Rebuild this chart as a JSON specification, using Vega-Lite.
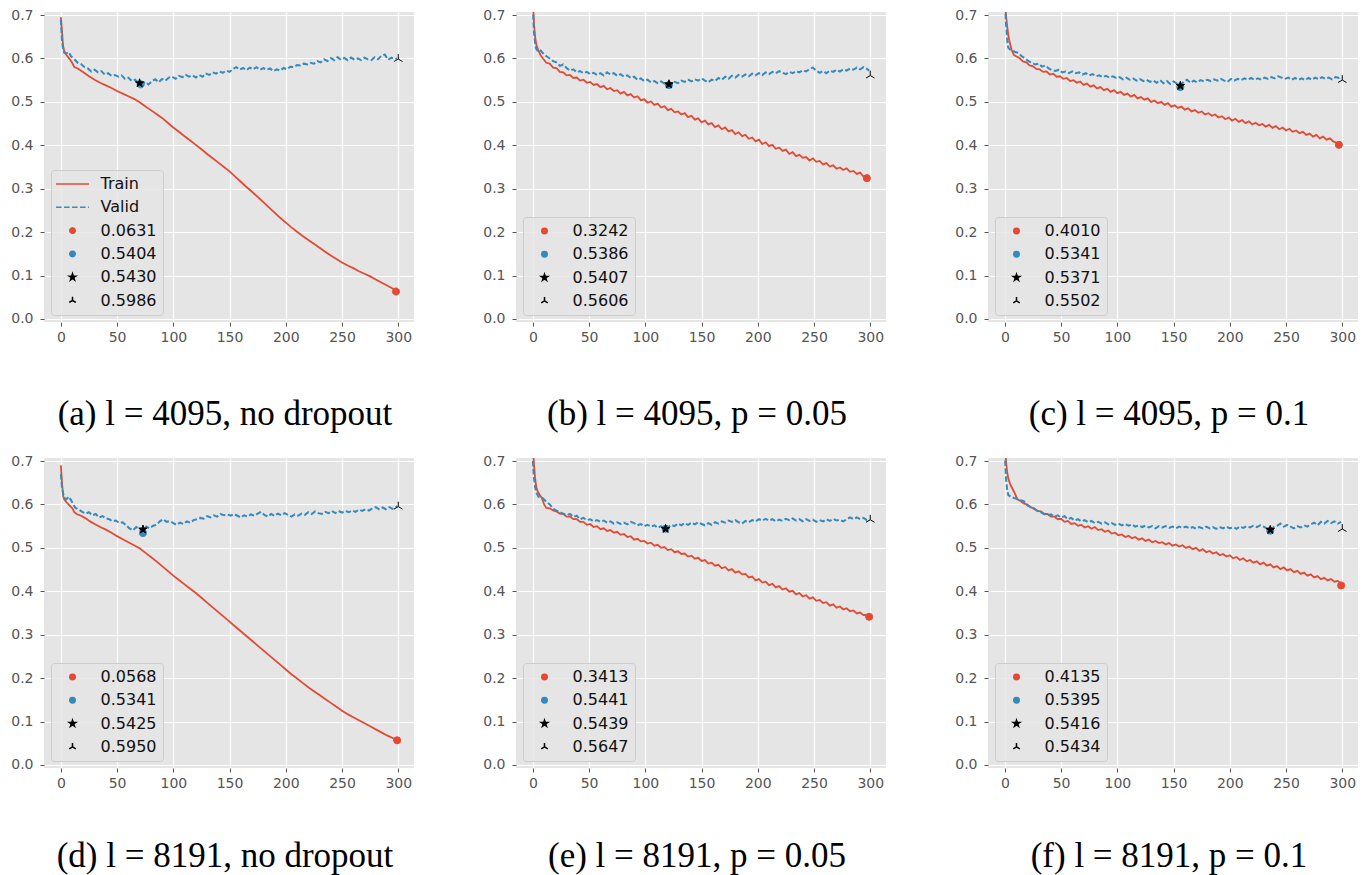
{
"$schema": "https://vega.github.io/schema/vega-lite/v6.json",
"background": "white",
"padding": {"left": 10, "top": 8, "right": 13, "bottom": 1},
"bounds": "flush",
"columns": 3,
"spacing": {"row": 136, "column": 102},
"config": {
  "view": {"fill": "#E5E5E5", "stroke": null},
  "axis": {"grid": true, "gridColor": "#FFFFFF", "gridWidth": 1.2, "domain": false, "tickColor": "#555555", "tickSize": 4, "tickWidth": 1, "labelColor": "#555555", "labelFont": "DejaVu Sans", "labelFontSize": 14, "title": null},
  "axisX": {"labelPadding": 4},
  "axisY": {"labelPadding": 7},
  "title": {"font": "Liberation Serif", "fontSize": 35, "fontWeight": "normal", "color": "#000000", "anchor": "middle"},
  "legend": {"orient": "bottom-left", "offset": 7, "padding": 6, "fillColor": "rgba(229,229,229,0.8)", "strokeColor": "#CCCCCC", "cornerRadius": 3, "labelFont": "DejaVu Sans", "labelFontSize": 16, "labelColor": "#111111", "labelOffset": 20, "symbolOffset": 7.5, "rowPadding": 7.3, "symbolSize": 30, "symbolStrokeWidth": 1.5}
},
"resolve": {"scale": {"fill": "independent", "stroke": "independent", "shape": "independent", "strokeDash": "independent", "x": "independent", "y": "independent"}, "legend": {"fill": "independent", "stroke": "independent", "shape": "independent", "strokeDash": "independent"}},
"datasets": {
"a_tr": [{"x":0,"y":0.695},{"x":1,"y":0.66},{"x":2,"y":0.628},{"x":3,"y":0.617},{"x":5,"y":0.608},{"x":8,"y":0.598},{"x":10,"y":0.59},{"x":12,"y":0.58},{"x":15,"y":0.577},{"x":20,"y":0.568},{"x":25,"y":0.559},{"x":30,"y":0.551},{"x":35,"y":0.544},{"x":40,"y":0.538},{"x":45,"y":0.532},{"x":50,"y":0.525},{"x":55,"y":0.519},{"x":60,"y":0.513},{"x":65,"y":0.507},{"x":70,"y":0.499},{"x":75,"y":0.49},{"x":80,"y":0.481},{"x":85,"y":0.472},{"x":90,"y":0.463},{"x":95,"y":0.452},{"x":100,"y":0.441},{"x":105,"y":0.431},{"x":110,"y":0.421},{"x":115,"y":0.411},{"x":120,"y":0.401},{"x":125,"y":0.391},{"x":130,"y":0.38},{"x":135,"y":0.37},{"x":140,"y":0.36},{"x":145,"y":0.35},{"x":150,"y":0.34},{"x":155,"y":0.328},{"x":160,"y":0.316},{"x":165,"y":0.304},{"x":170,"y":0.293},{"x":175,"y":0.281},{"x":180,"y":0.269},{"x":185,"y":0.257},{"x":190,"y":0.245},{"x":195,"y":0.233},{"x":200,"y":0.222},{"x":205,"y":0.211},{"x":210,"y":0.201},{"x":215,"y":0.191},{"x":220,"y":0.182},{"x":225,"y":0.173},{"x":230,"y":0.164},{"x":235,"y":0.155},{"x":240,"y":0.146},{"x":245,"y":0.138},{"x":250,"y":0.13},{"x":255,"y":0.123},{"x":260,"y":0.117},{"x":265,"y":0.11},{"x":270,"y":0.104},{"x":275,"y":0.098},{"x":280,"y":0.091},{"x":285,"y":0.084},{"x":290,"y":0.077},{"x":295,"y":0.07},{"x":299,"y":0.064}],
"a_va": [{"x":0,"y":0.69},{"x":1,"y":0.64},{"x":2,"y":0.62},{"x":3,"y":0.613},{"x":5,"y":0.612},{"x":7,"y":0.615},{"x":9,"y":0.605},{"x":12,"y":0.598},{"x":15,"y":0.59},{"x":18,"y":0.587},{"x":21,"y":0.58},{"x":24,"y":0.577},{"x":27,"y":0.57},{"x":30,"y":0.574},{"x":33,"y":0.568},{"x":36,"y":0.571},{"x":39,"y":0.563},{"x":42,"y":0.566},{"x":45,"y":0.56},{"x":48,"y":0.562},{"x":51,"y":0.558},{"x":54,"y":0.561},{"x":57,"y":0.553},{"x":60,"y":0.556},{"x":63,"y":0.548},{"x":66,"y":0.551},{"x":69,"y":0.543},{"x":72,"y":0.541},{"x":75,"y":0.546},{"x":78,"y":0.54},{"x":81,"y":0.548},{"x":84,"y":0.552},{"x":87,"y":0.545},{"x":90,"y":0.553},{"x":93,"y":0.549},{"x":96,"y":0.556},{"x":99,"y":0.558},{"x":102,"y":0.553},{"x":105,"y":0.56},{"x":108,"y":0.557},{"x":111,"y":0.562},{"x":114,"y":0.558},{"x":117,"y":0.561},{"x":120,"y":0.556},{"x":123,"y":0.562},{"x":126,"y":0.558},{"x":129,"y":0.565},{"x":132,"y":0.562},{"x":135,"y":0.568},{"x":138,"y":0.565},{"x":141,"y":0.57},{"x":144,"y":0.567},{"x":147,"y":0.572},{"x":150,"y":0.569},{"x":153,"y":0.576},{"x":156,"y":0.58},{"x":159,"y":0.574},{"x":162,"y":0.578},{"x":165,"y":0.573},{"x":168,"y":0.579},{"x":171,"y":0.575},{"x":174,"y":0.58},{"x":177,"y":0.574},{"x":180,"y":0.578},{"x":183,"y":0.574},{"x":186,"y":0.577},{"x":189,"y":0.571},{"x":192,"y":0.575},{"x":195,"y":0.572},{"x":198,"y":0.578},{"x":201,"y":0.575},{"x":204,"y":0.581},{"x":207,"y":0.58},{"x":210,"y":0.585},{"x":213,"y":0.584},{"x":216,"y":0.588},{"x":219,"y":0.586},{"x":222,"y":0.59},{"x":225,"y":0.588},{"x":228,"y":0.594},{"x":231,"y":0.591},{"x":234,"y":0.598},{"x":237,"y":0.594},{"x":240,"y":0.601},{"x":243,"y":0.596},{"x":246,"y":0.603},{"x":249,"y":0.597},{"x":252,"y":0.601},{"x":255,"y":0.596},{"x":258,"y":0.602},{"x":261,"y":0.597},{"x":264,"y":0.6},{"x":267,"y":0.596},{"x":270,"y":0.602},{"x":273,"y":0.598},{"x":276,"y":0.596},{"x":279,"y":0.603},{"x":282,"y":0.598},{"x":285,"y":0.606},{"x":288,"y":0.609},{"x":291,"y":0.597},{"x":294,"y":0.602},{"x":297,"y":0.598},{"x":299,"y":0.6}],
"a_mk": [{"x":298,"y":0.0631,"lab":"0.0631"},{"x":71,"y":0.5404,"lab":"0.5404"},{"x":70,"y":0.543,"lab":"0.5430"},{"x":300,"y":0.5986,"lab":"0.5986"}],
"b_tr": [{"x":0,"y":0.74},{"x":1,"y":0.68},{"x":2,"y":0.65},{"x":3,"y":0.632},{"x":5,"y":0.618},{"x":7,"y":0.607},{"x":9,"y":0.6},{"x":12,"y":0.59},{"x":15,"y":0.588},{"x":18,"y":0.579},{"x":21,"y":0.578},{"x":24,"y":0.569},{"x":27,"y":0.568},{"x":30,"y":0.561},{"x":33,"y":0.562},{"x":36,"y":0.555},{"x":39,"y":0.556},{"x":42,"y":0.549},{"x":45,"y":0.551},{"x":48,"y":0.544},{"x":51,"y":0.546},{"x":54,"y":0.539},{"x":57,"y":0.541},{"x":60,"y":0.534},{"x":63,"y":0.537},{"x":66,"y":0.529},{"x":69,"y":0.532},{"x":72,"y":0.525},{"x":75,"y":0.527},{"x":78,"y":0.519},{"x":81,"y":0.523},{"x":84,"y":0.515},{"x":87,"y":0.518},{"x":90,"y":0.51},{"x":93,"y":0.513},{"x":96,"y":0.504},{"x":99,"y":0.506},{"x":102,"y":0.498},{"x":105,"y":0.501},{"x":108,"y":0.493},{"x":111,"y":0.496},{"x":114,"y":0.487},{"x":117,"y":0.49},{"x":120,"y":0.481},{"x":123,"y":0.484},{"x":126,"y":0.476},{"x":129,"y":0.478},{"x":132,"y":0.471},{"x":135,"y":0.474},{"x":138,"y":0.465},{"x":141,"y":0.468},{"x":144,"y":0.459},{"x":147,"y":0.462},{"x":150,"y":0.453},{"x":153,"y":0.457},{"x":156,"y":0.448},{"x":159,"y":0.451},{"x":162,"y":0.442},{"x":165,"y":0.446},{"x":168,"y":0.437},{"x":171,"y":0.441},{"x":174,"y":0.432},{"x":177,"y":0.435},{"x":180,"y":0.426},{"x":183,"y":0.43},{"x":186,"y":0.421},{"x":189,"y":0.424},{"x":192,"y":0.415},{"x":195,"y":0.418},{"x":198,"y":0.409},{"x":201,"y":0.413},{"x":204,"y":0.403},{"x":207,"y":0.407},{"x":210,"y":0.398},{"x":213,"y":0.401},{"x":216,"y":0.392},{"x":219,"y":0.395},{"x":222,"y":0.387},{"x":225,"y":0.39},{"x":228,"y":0.38},{"x":231,"y":0.384},{"x":234,"y":0.375},{"x":237,"y":0.378},{"x":240,"y":0.371},{"x":243,"y":0.373},{"x":246,"y":0.365},{"x":249,"y":0.37},{"x":252,"y":0.362},{"x":255,"y":0.364},{"x":258,"y":0.356},{"x":261,"y":0.359},{"x":264,"y":0.351},{"x":267,"y":0.354},{"x":270,"y":0.346},{"x":273,"y":0.349},{"x":276,"y":0.343},{"x":279,"y":0.347},{"x":282,"y":0.339},{"x":285,"y":0.341},{"x":288,"y":0.334},{"x":291,"y":0.337},{"x":294,"y":0.328},{"x":297,"y":0.331},{"x":299,"y":0.329}],
"b_va": [{"x":0,"y":0.72},{"x":1,"y":0.66},{"x":2,"y":0.635},{"x":3,"y":0.622},{"x":5,"y":0.615},{"x":7,"y":0.618},{"x":9,"y":0.612},{"x":12,"y":0.605},{"x":15,"y":0.6},{"x":18,"y":0.594},{"x":21,"y":0.591},{"x":24,"y":0.583},{"x":27,"y":0.586},{"x":30,"y":0.578},{"x":33,"y":0.572},{"x":36,"y":0.575},{"x":39,"y":0.568},{"x":42,"y":0.571},{"x":45,"y":0.566},{"x":48,"y":0.569},{"x":51,"y":0.564},{"x":54,"y":0.567},{"x":57,"y":0.562},{"x":60,"y":0.566},{"x":63,"y":0.561},{"x":66,"y":0.568},{"x":69,"y":0.563},{"x":72,"y":0.566},{"x":75,"y":0.56},{"x":78,"y":0.564},{"x":81,"y":0.558},{"x":84,"y":0.561},{"x":87,"y":0.555},{"x":90,"y":0.558},{"x":93,"y":0.551},{"x":96,"y":0.554},{"x":99,"y":0.548},{"x":102,"y":0.551},{"x":105,"y":0.545},{"x":108,"y":0.548},{"x":111,"y":0.543},{"x":114,"y":0.547},{"x":117,"y":0.542},{"x":120,"y":0.545},{"x":123,"y":0.541},{"x":126,"y":0.546},{"x":129,"y":0.543},{"x":132,"y":0.549},{"x":135,"y":0.546},{"x":138,"y":0.551},{"x":141,"y":0.547},{"x":144,"y":0.552},{"x":147,"y":0.549},{"x":150,"y":0.554},{"x":153,"y":0.549},{"x":156,"y":0.545},{"x":159,"y":0.551},{"x":162,"y":0.548},{"x":165,"y":0.555},{"x":168,"y":0.551},{"x":171,"y":0.558},{"x":174,"y":0.553},{"x":177,"y":0.56},{"x":180,"y":0.556},{"x":183,"y":0.562},{"x":186,"y":0.558},{"x":189,"y":0.563},{"x":192,"y":0.559},{"x":195,"y":0.565},{"x":198,"y":0.561},{"x":201,"y":0.566},{"x":204,"y":0.562},{"x":207,"y":0.568},{"x":210,"y":0.564},{"x":213,"y":0.569},{"x":216,"y":0.566},{"x":219,"y":0.571},{"x":222,"y":0.567},{"x":225,"y":0.564},{"x":228,"y":0.569},{"x":231,"y":0.566},{"x":234,"y":0.571},{"x":237,"y":0.568},{"x":240,"y":0.573},{"x":243,"y":0.57},{"x":246,"y":0.576},{"x":249,"y":0.579},{"x":252,"y":0.572},{"x":255,"y":0.567},{"x":258,"y":0.571},{"x":261,"y":0.566},{"x":264,"y":0.572},{"x":267,"y":0.569},{"x":270,"y":0.574},{"x":273,"y":0.57},{"x":276,"y":0.575},{"x":279,"y":0.572},{"x":282,"y":0.577},{"x":285,"y":0.574},{"x":288,"y":0.579},{"x":291,"y":0.575},{"x":294,"y":0.58},{"x":297,"y":0.576},{"x":299,"y":0.572}],
"b_mk": [{"x":297,"y":0.3242,"lab":"0.3242"},{"x":121,"y":0.5386,"lab":"0.5386"},{"x":121,"y":0.5407,"lab":"0.5407"},{"x":300,"y":0.5606,"lab":"0.5606"}],
"c_tr": [{"x":0,"y":0.74},{"x":1,"y":0.7},{"x":2,"y":0.675},{"x":3,"y":0.655},{"x":4,"y":0.64},{"x":6,"y":0.62},{"x":8,"y":0.608},{"x":10,"y":0.605},{"x":13,"y":0.601},{"x":16,"y":0.593},{"x":19,"y":0.591},{"x":22,"y":0.584},{"x":25,"y":0.582},{"x":28,"y":0.576},{"x":31,"y":0.575},{"x":34,"y":0.569},{"x":37,"y":0.57},{"x":40,"y":0.563},{"x":43,"y":0.565},{"x":46,"y":0.558},{"x":49,"y":0.559},{"x":52,"y":0.553},{"x":55,"y":0.555},{"x":58,"y":0.548},{"x":61,"y":0.55},{"x":64,"y":0.544},{"x":67,"y":0.547},{"x":70,"y":0.539},{"x":73,"y":0.542},{"x":76,"y":0.535},{"x":79,"y":0.538},{"x":82,"y":0.531},{"x":85,"y":0.534},{"x":88,"y":0.527},{"x":91,"y":0.53},{"x":94,"y":0.523},{"x":97,"y":0.527},{"x":100,"y":0.52},{"x":103,"y":0.523},{"x":106,"y":0.516},{"x":109,"y":0.519},{"x":112,"y":0.512},{"x":115,"y":0.516},{"x":118,"y":0.508},{"x":121,"y":0.511},{"x":124,"y":0.505},{"x":127,"y":0.508},{"x":130,"y":0.5},{"x":133,"y":0.503},{"x":136,"y":0.497},{"x":139,"y":0.5},{"x":142,"y":0.493},{"x":145,"y":0.497},{"x":148,"y":0.489},{"x":151,"y":0.492},{"x":154,"y":0.486},{"x":157,"y":0.489},{"x":160,"y":0.482},{"x":163,"y":0.485},{"x":166,"y":0.478},{"x":169,"y":0.481},{"x":172,"y":0.475},{"x":175,"y":0.478},{"x":178,"y":0.471},{"x":181,"y":0.474},{"x":184,"y":0.468},{"x":187,"y":0.471},{"x":190,"y":0.464},{"x":193,"y":0.467},{"x":196,"y":0.46},{"x":199,"y":0.464},{"x":202,"y":0.457},{"x":205,"y":0.461},{"x":208,"y":0.454},{"x":211,"y":0.458},{"x":214,"y":0.451},{"x":217,"y":0.455},{"x":220,"y":0.448},{"x":223,"y":0.452},{"x":226,"y":0.446},{"x":229,"y":0.449},{"x":232,"y":0.443},{"x":235,"y":0.447},{"x":238,"y":0.44},{"x":241,"y":0.444},{"x":244,"y":0.437},{"x":247,"y":0.441},{"x":250,"y":0.434},{"x":253,"y":0.438},{"x":256,"y":0.431},{"x":259,"y":0.434},{"x":262,"y":0.428},{"x":265,"y":0.431},{"x":268,"y":0.424},{"x":271,"y":0.427},{"x":274,"y":0.42},{"x":277,"y":0.424},{"x":280,"y":0.416},{"x":283,"y":0.42},{"x":286,"y":0.413},{"x":289,"y":0.416},{"x":292,"y":0.409},{"x":295,"y":0.406},{"x":297,"y":0.402},{"x":299,"y":0.408}],
"c_va": [{"x":0,"y":0.74},{"x":1,"y":0.68},{"x":2,"y":0.645},{"x":3,"y":0.625},{"x":5,"y":0.62},{"x":7,"y":0.618},{"x":9,"y":0.615},{"x":12,"y":0.613},{"x":15,"y":0.605},{"x":18,"y":0.6},{"x":21,"y":0.594},{"x":24,"y":0.59},{"x":27,"y":0.586},{"x":30,"y":0.588},{"x":33,"y":0.581},{"x":36,"y":0.584},{"x":39,"y":0.577},{"x":42,"y":0.573},{"x":45,"y":0.571},{"x":48,"y":0.574},{"x":51,"y":0.568},{"x":54,"y":0.57},{"x":57,"y":0.566},{"x":60,"y":0.57},{"x":63,"y":0.566},{"x":66,"y":0.568},{"x":69,"y":0.563},{"x":72,"y":0.566},{"x":75,"y":0.561},{"x":78,"y":0.564},{"x":81,"y":0.559},{"x":84,"y":0.561},{"x":87,"y":0.557},{"x":90,"y":0.56},{"x":93,"y":0.556},{"x":96,"y":0.559},{"x":99,"y":0.555},{"x":102,"y":0.557},{"x":105,"y":0.552},{"x":108,"y":0.556},{"x":111,"y":0.551},{"x":114,"y":0.554},{"x":117,"y":0.549},{"x":120,"y":0.553},{"x":123,"y":0.548},{"x":126,"y":0.551},{"x":129,"y":0.546},{"x":132,"y":0.549},{"x":135,"y":0.544},{"x":138,"y":0.55},{"x":141,"y":0.543},{"x":144,"y":0.548},{"x":147,"y":0.541},{"x":150,"y":0.547},{"x":153,"y":0.542},{"x":156,"y":0.538},{"x":159,"y":0.546},{"x":162,"y":0.551},{"x":165,"y":0.544},{"x":168,"y":0.549},{"x":171,"y":0.545},{"x":174,"y":0.55},{"x":177,"y":0.547},{"x":180,"y":0.551},{"x":183,"y":0.548},{"x":186,"y":0.552},{"x":189,"y":0.549},{"x":192,"y":0.553},{"x":195,"y":0.549},{"x":198,"y":0.546},{"x":201,"y":0.553},{"x":204,"y":0.549},{"x":207,"y":0.553},{"x":210,"y":0.55},{"x":213,"y":0.554},{"x":216,"y":0.551},{"x":219,"y":0.555},{"x":222,"y":0.551},{"x":225,"y":0.554},{"x":228,"y":0.551},{"x":231,"y":0.556},{"x":234,"y":0.553},{"x":237,"y":0.557},{"x":240,"y":0.554},{"x":243,"y":0.559},{"x":246,"y":0.556},{"x":249,"y":0.553},{"x":252,"y":0.556},{"x":255,"y":0.551},{"x":258,"y":0.555},{"x":261,"y":0.551},{"x":264,"y":0.554},{"x":267,"y":0.55},{"x":270,"y":0.555},{"x":273,"y":0.551},{"x":276,"y":0.556},{"x":279,"y":0.552},{"x":282,"y":0.557},{"x":285,"y":0.553},{"x":288,"y":0.556},{"x":291,"y":0.552},{"x":294,"y":0.557},{"x":297,"y":0.555},{"x":299,"y":0.558}],
"c_mk": [{"x":297,"y":0.401,"lab":"0.4010"},{"x":156,"y":0.5341,"lab":"0.5341"},{"x":156,"y":0.5371,"lab":"0.5371"},{"x":300,"y":0.5502,"lab":"0.5502"}],
"d_tr": [{"x":0,"y":0.69},{"x":1,"y":0.65},{"x":2,"y":0.62},{"x":3,"y":0.612},{"x":5,"y":0.605},{"x":8,"y":0.597},{"x":10,"y":0.592},{"x":12,"y":0.582},{"x":14,"y":0.578},{"x":18,"y":0.574},{"x":22,"y":0.568},{"x":26,"y":0.561},{"x":30,"y":0.555},{"x":35,"y":0.548},{"x":40,"y":0.542},{"x":45,"y":0.535},{"x":50,"y":0.527},{"x":55,"y":0.52},{"x":60,"y":0.513},{"x":65,"y":0.506},{"x":70,"y":0.499},{"x":75,"y":0.489},{"x":80,"y":0.479},{"x":85,"y":0.469},{"x":90,"y":0.458},{"x":95,"y":0.447},{"x":100,"y":0.436},{"x":105,"y":0.426},{"x":110,"y":0.416},{"x":115,"y":0.406},{"x":120,"y":0.396},{"x":125,"y":0.385},{"x":130,"y":0.374},{"x":135,"y":0.363},{"x":140,"y":0.352},{"x":145,"y":0.341},{"x":150,"y":0.33},{"x":155,"y":0.319},{"x":160,"y":0.308},{"x":165,"y":0.297},{"x":170,"y":0.286},{"x":175,"y":0.275},{"x":180,"y":0.264},{"x":185,"y":0.253},{"x":190,"y":0.242},{"x":195,"y":0.231},{"x":200,"y":0.22},{"x":205,"y":0.209},{"x":210,"y":0.199},{"x":215,"y":0.189},{"x":220,"y":0.179},{"x":225,"y":0.17},{"x":230,"y":0.161},{"x":235,"y":0.152},{"x":240,"y":0.143},{"x":245,"y":0.134},{"x":250,"y":0.125},{"x":255,"y":0.117},{"x":260,"y":0.11},{"x":265,"y":0.103},{"x":270,"y":0.096},{"x":275,"y":0.089},{"x":280,"y":0.082},{"x":285,"y":0.075},{"x":290,"y":0.068},{"x":295,"y":0.062},{"x":299,"y":0.057}],
"d_va": [{"x":0,"y":0.67},{"x":1,"y":0.64},{"x":2,"y":0.625},{"x":3,"y":0.615},{"x":5,"y":0.612},{"x":7,"y":0.618},{"x":9,"y":0.61},{"x":11,"y":0.6},{"x":13,"y":0.592},{"x":16,"y":0.588},{"x":19,"y":0.583},{"x":22,"y":0.579},{"x":25,"y":0.582},{"x":28,"y":0.575},{"x":31,"y":0.578},{"x":34,"y":0.57},{"x":37,"y":0.573},{"x":40,"y":0.568},{"x":43,"y":0.566},{"x":46,"y":0.561},{"x":49,"y":0.563},{"x":52,"y":0.557},{"x":55,"y":0.559},{"x":58,"y":0.552},{"x":61,"y":0.545},{"x":64,"y":0.54},{"x":67,"y":0.548},{"x":70,"y":0.543},{"x":73,"y":0.537},{"x":76,"y":0.549},{"x":79,"y":0.545},{"x":82,"y":0.551},{"x":85,"y":0.553},{"x":88,"y":0.561},{"x":91,"y":0.566},{"x":94,"y":0.56},{"x":97,"y":0.562},{"x":100,"y":0.557},{"x":103,"y":0.553},{"x":106,"y":0.558},{"x":109,"y":0.555},{"x":112,"y":0.561},{"x":115,"y":0.558},{"x":118,"y":0.564},{"x":121,"y":0.566},{"x":124,"y":0.569},{"x":127,"y":0.567},{"x":130,"y":0.573},{"x":133,"y":0.57},{"x":136,"y":0.575},{"x":139,"y":0.572},{"x":142,"y":0.578},{"x":145,"y":0.575},{"x":148,"y":0.577},{"x":151,"y":0.574},{"x":154,"y":0.578},{"x":157,"y":0.574},{"x":160,"y":0.57},{"x":163,"y":0.575},{"x":166,"y":0.572},{"x":169,"y":0.577},{"x":172,"y":0.574},{"x":175,"y":0.579},{"x":178,"y":0.583},{"x":181,"y":0.576},{"x":184,"y":0.572},{"x":187,"y":0.578},{"x":190,"y":0.574},{"x":193,"y":0.579},{"x":196,"y":0.575},{"x":199,"y":0.58},{"x":202,"y":0.576},{"x":205,"y":0.572},{"x":208,"y":0.577},{"x":211,"y":0.574},{"x":214,"y":0.579},{"x":217,"y":0.576},{"x":220,"y":0.582},{"x":223,"y":0.578},{"x":226,"y":0.584},{"x":229,"y":0.58},{"x":232,"y":0.578},{"x":235,"y":0.583},{"x":238,"y":0.58},{"x":241,"y":0.585},{"x":244,"y":0.58},{"x":247,"y":0.585},{"x":250,"y":0.581},{"x":253,"y":0.585},{"x":256,"y":0.582},{"x":259,"y":0.586},{"x":262,"y":0.583},{"x":265,"y":0.588},{"x":268,"y":0.585},{"x":271,"y":0.589},{"x":274,"y":0.586},{"x":277,"y":0.591},{"x":280,"y":0.594},{"x":283,"y":0.589},{"x":286,"y":0.593},{"x":289,"y":0.589},{"x":292,"y":0.594},{"x":295,"y":0.59},{"x":299,"y":0.596}],
"d_mk": [{"x":299,"y":0.0568,"lab":"0.0568"},{"x":73,"y":0.5341,"lab":"0.5341"},{"x":73,"y":0.5425,"lab":"0.5425"},{"x":300,"y":0.595,"lab":"0.5950"}],
"e_tr": [{"x":0,"y":0.74},{"x":1,"y":0.69},{"x":2,"y":0.66},{"x":3,"y":0.64},{"x":4,"y":0.632},{"x":6,"y":0.622},{"x":8,"y":0.615},{"x":10,"y":0.6},{"x":12,"y":0.592},{"x":15,"y":0.591},{"x":18,"y":0.586},{"x":21,"y":0.584},{"x":24,"y":0.579},{"x":27,"y":0.578},{"x":30,"y":0.572},{"x":33,"y":0.572},{"x":36,"y":0.566},{"x":39,"y":0.566},{"x":42,"y":0.56},{"x":45,"y":0.56},{"x":48,"y":0.553},{"x":51,"y":0.555},{"x":54,"y":0.548},{"x":57,"y":0.55},{"x":60,"y":0.543},{"x":63,"y":0.545},{"x":66,"y":0.539},{"x":69,"y":0.541},{"x":72,"y":0.535},{"x":75,"y":0.537},{"x":78,"y":0.53},{"x":81,"y":0.532},{"x":84,"y":0.525},{"x":87,"y":0.527},{"x":90,"y":0.519},{"x":93,"y":0.521},{"x":96,"y":0.515},{"x":99,"y":0.516},{"x":102,"y":0.51},{"x":105,"y":0.512},{"x":108,"y":0.505},{"x":111,"y":0.507},{"x":114,"y":0.5},{"x":117,"y":0.502},{"x":120,"y":0.495},{"x":123,"y":0.497},{"x":126,"y":0.49},{"x":129,"y":0.492},{"x":132,"y":0.486},{"x":135,"y":0.487},{"x":138,"y":0.48},{"x":141,"y":0.482},{"x":144,"y":0.475},{"x":147,"y":0.477},{"x":150,"y":0.47},{"x":153,"y":0.472},{"x":156,"y":0.464},{"x":159,"y":0.466},{"x":162,"y":0.459},{"x":165,"y":0.461},{"x":168,"y":0.453},{"x":171,"y":0.456},{"x":174,"y":0.448},{"x":177,"y":0.451},{"x":180,"y":0.443},{"x":183,"y":0.446},{"x":186,"y":0.439},{"x":189,"y":0.44},{"x":192,"y":0.432},{"x":195,"y":0.434},{"x":198,"y":0.425},{"x":201,"y":0.428},{"x":204,"y":0.42},{"x":207,"y":0.422},{"x":210,"y":0.414},{"x":213,"y":0.417},{"x":216,"y":0.409},{"x":219,"y":0.412},{"x":222,"y":0.404},{"x":225,"y":0.407},{"x":228,"y":0.399},{"x":231,"y":0.401},{"x":234,"y":0.393},{"x":237,"y":0.396},{"x":240,"y":0.388},{"x":243,"y":0.391},{"x":246,"y":0.383},{"x":249,"y":0.386},{"x":252,"y":0.378},{"x":255,"y":0.38},{"x":258,"y":0.373},{"x":261,"y":0.375},{"x":264,"y":0.367},{"x":267,"y":0.37},{"x":270,"y":0.362},{"x":273,"y":0.365},{"x":276,"y":0.358},{"x":279,"y":0.361},{"x":282,"y":0.354},{"x":285,"y":0.356},{"x":288,"y":0.349},{"x":291,"y":0.351},{"x":294,"y":0.345},{"x":297,"y":0.346},{"x":299,"y":0.341}],
"e_va": [{"x":0,"y":0.7},{"x":1,"y":0.66},{"x":2,"y":0.64},{"x":3,"y":0.628},{"x":5,"y":0.618},{"x":7,"y":0.616},{"x":9,"y":0.614},{"x":12,"y":0.606},{"x":15,"y":0.6},{"x":18,"y":0.59},{"x":21,"y":0.586},{"x":24,"y":0.582},{"x":27,"y":0.579},{"x":30,"y":0.575},{"x":33,"y":0.578},{"x":36,"y":0.571},{"x":39,"y":0.574},{"x":42,"y":0.566},{"x":45,"y":0.569},{"x":48,"y":0.564},{"x":51,"y":0.566},{"x":54,"y":0.561},{"x":57,"y":0.564},{"x":60,"y":0.56},{"x":63,"y":0.563},{"x":66,"y":0.558},{"x":69,"y":0.561},{"x":72,"y":0.556},{"x":75,"y":0.559},{"x":78,"y":0.555},{"x":81,"y":0.558},{"x":84,"y":0.554},{"x":87,"y":0.56},{"x":90,"y":0.557},{"x":93,"y":0.552},{"x":96,"y":0.555},{"x":99,"y":0.55},{"x":102,"y":0.553},{"x":105,"y":0.549},{"x":108,"y":0.552},{"x":111,"y":0.546},{"x":114,"y":0.55},{"x":117,"y":0.544},{"x":120,"y":0.547},{"x":123,"y":0.553},{"x":126,"y":0.55},{"x":129,"y":0.556},{"x":132,"y":0.552},{"x":135,"y":0.557},{"x":138,"y":0.553},{"x":141,"y":0.558},{"x":144,"y":0.554},{"x":147,"y":0.559},{"x":150,"y":0.555},{"x":153,"y":0.552},{"x":156,"y":0.557},{"x":159,"y":0.553},{"x":162,"y":0.559},{"x":165,"y":0.556},{"x":168,"y":0.561},{"x":171,"y":0.558},{"x":174,"y":0.563},{"x":177,"y":0.56},{"x":180,"y":0.564},{"x":183,"y":0.559},{"x":186,"y":0.556},{"x":189,"y":0.562},{"x":192,"y":0.559},{"x":195,"y":0.564},{"x":198,"y":0.561},{"x":201,"y":0.566},{"x":204,"y":0.563},{"x":207,"y":0.567},{"x":210,"y":0.563},{"x":213,"y":0.566},{"x":216,"y":0.561},{"x":219,"y":0.565},{"x":222,"y":0.562},{"x":225,"y":0.567},{"x":228,"y":0.564},{"x":231,"y":0.568},{"x":234,"y":0.563},{"x":237,"y":0.566},{"x":240,"y":0.561},{"x":243,"y":0.566},{"x":246,"y":0.562},{"x":249,"y":0.565},{"x":252,"y":0.56},{"x":255,"y":0.564},{"x":258,"y":0.561},{"x":261,"y":0.566},{"x":264,"y":0.562},{"x":267,"y":0.567},{"x":270,"y":0.563},{"x":273,"y":0.565},{"x":276,"y":0.561},{"x":279,"y":0.566},{"x":282,"y":0.57},{"x":285,"y":0.566},{"x":288,"y":0.57},{"x":291,"y":0.566},{"x":294,"y":0.569},{"x":297,"y":0.564},{"x":299,"y":0.567}],
"e_mk": [{"x":299,"y":0.3413,"lab":"0.3413"},{"x":118,"y":0.5441,"lab":"0.5441"},{"x":118,"y":0.5439,"lab":"0.5439"},{"x":300,"y":0.5647,"lab":"0.5647"}],
"f_tr": [{"x":0,"y":0.74},{"x":1,"y":0.7},{"x":2,"y":0.675},{"x":3,"y":0.66},{"x":5,"y":0.645},{"x":7,"y":0.635},{"x":9,"y":0.625},{"x":11,"y":0.612},{"x":14,"y":0.608},{"x":17,"y":0.602},{"x":20,"y":0.6},{"x":23,"y":0.593},{"x":26,"y":0.591},{"x":29,"y":0.585},{"x":32,"y":0.584},{"x":35,"y":0.578},{"x":38,"y":0.578},{"x":41,"y":0.572},{"x":44,"y":0.572},{"x":47,"y":0.566},{"x":50,"y":0.567},{"x":53,"y":0.56},{"x":56,"y":0.562},{"x":59,"y":0.555},{"x":62,"y":0.557},{"x":65,"y":0.551},{"x":68,"y":0.553},{"x":71,"y":0.547},{"x":74,"y":0.55},{"x":77,"y":0.544},{"x":80,"y":0.548},{"x":83,"y":0.541},{"x":86,"y":0.543},{"x":89,"y":0.537},{"x":92,"y":0.54},{"x":95,"y":0.533},{"x":98,"y":0.535},{"x":101,"y":0.529},{"x":104,"y":0.531},{"x":107,"y":0.525},{"x":110,"y":0.528},{"x":113,"y":0.522},{"x":116,"y":0.525},{"x":119,"y":0.519},{"x":122,"y":0.522},{"x":125,"y":0.516},{"x":128,"y":0.519},{"x":131,"y":0.513},{"x":134,"y":0.516},{"x":137,"y":0.511},{"x":140,"y":0.513},{"x":143,"y":0.508},{"x":146,"y":0.511},{"x":149,"y":0.505},{"x":152,"y":0.508},{"x":155,"y":0.503},{"x":158,"y":0.506},{"x":161,"y":0.5},{"x":164,"y":0.503},{"x":167,"y":0.497},{"x":170,"y":0.5},{"x":173,"y":0.493},{"x":176,"y":0.497},{"x":179,"y":0.49},{"x":182,"y":0.493},{"x":185,"y":0.487},{"x":188,"y":0.49},{"x":191,"y":0.483},{"x":194,"y":0.486},{"x":197,"y":0.48},{"x":200,"y":0.483},{"x":203,"y":0.476},{"x":206,"y":0.479},{"x":209,"y":0.472},{"x":212,"y":0.476},{"x":215,"y":0.469},{"x":218,"y":0.472},{"x":221,"y":0.466},{"x":224,"y":0.469},{"x":227,"y":0.462},{"x":230,"y":0.466},{"x":233,"y":0.459},{"x":236,"y":0.462},{"x":239,"y":0.455},{"x":242,"y":0.458},{"x":245,"y":0.451},{"x":248,"y":0.455},{"x":251,"y":0.448},{"x":254,"y":0.451},{"x":257,"y":0.444},{"x":260,"y":0.447},{"x":263,"y":0.44},{"x":266,"y":0.443},{"x":269,"y":0.436},{"x":272,"y":0.439},{"x":275,"y":0.432},{"x":278,"y":0.435},{"x":281,"y":0.428},{"x":284,"y":0.431},{"x":287,"y":0.425},{"x":290,"y":0.428},{"x":293,"y":0.422},{"x":296,"y":0.424},{"x":299,"y":0.418}],
"f_va": [{"x":0,"y":0.72},{"x":1,"y":0.66},{"x":2,"y":0.635},{"x":3,"y":0.622},{"x":5,"y":0.618},{"x":8,"y":0.615},{"x":11,"y":0.613},{"x":14,"y":0.61},{"x":17,"y":0.607},{"x":20,"y":0.598},{"x":23,"y":0.594},{"x":26,"y":0.59},{"x":29,"y":0.585},{"x":32,"y":0.582},{"x":35,"y":0.578},{"x":38,"y":0.575},{"x":41,"y":0.577},{"x":44,"y":0.572},{"x":47,"y":0.575},{"x":50,"y":0.57},{"x":53,"y":0.573},{"x":56,"y":0.566},{"x":59,"y":0.569},{"x":62,"y":0.563},{"x":65,"y":0.566},{"x":68,"y":0.561},{"x":71,"y":0.564},{"x":74,"y":0.559},{"x":77,"y":0.562},{"x":80,"y":0.557},{"x":83,"y":0.56},{"x":86,"y":0.556},{"x":89,"y":0.559},{"x":92,"y":0.554},{"x":95,"y":0.557},{"x":98,"y":0.553},{"x":101,"y":0.556},{"x":104,"y":0.552},{"x":107,"y":0.555},{"x":110,"y":0.551},{"x":113,"y":0.554},{"x":116,"y":0.549},{"x":119,"y":0.552},{"x":122,"y":0.548},{"x":125,"y":0.551},{"x":128,"y":0.547},{"x":131,"y":0.55},{"x":134,"y":0.545},{"x":137,"y":0.55},{"x":140,"y":0.547},{"x":143,"y":0.55},{"x":146,"y":0.546},{"x":149,"y":0.549},{"x":152,"y":0.545},{"x":155,"y":0.549},{"x":158,"y":0.546},{"x":161,"y":0.549},{"x":164,"y":0.545},{"x":167,"y":0.548},{"x":170,"y":0.544},{"x":173,"y":0.548},{"x":176,"y":0.545},{"x":179,"y":0.549},{"x":182,"y":0.545},{"x":185,"y":0.548},{"x":188,"y":0.544},{"x":191,"y":0.548},{"x":194,"y":0.545},{"x":197,"y":0.549},{"x":200,"y":0.545},{"x":203,"y":0.548},{"x":206,"y":0.544},{"x":209,"y":0.549},{"x":212,"y":0.546},{"x":215,"y":0.55},{"x":218,"y":0.547},{"x":221,"y":0.551},{"x":224,"y":0.548},{"x":227,"y":0.552},{"x":230,"y":0.549},{"x":233,"y":0.545},{"x":236,"y":0.541},{"x":239,"y":0.548},{"x":242,"y":0.551},{"x":245,"y":0.556},{"x":248,"y":0.549},{"x":251,"y":0.553},{"x":254,"y":0.549},{"x":257,"y":0.545},{"x":260,"y":0.55},{"x":263,"y":0.547},{"x":266,"y":0.552},{"x":269,"y":0.549},{"x":272,"y":0.554},{"x":275,"y":0.558},{"x":278,"y":0.552},{"x":281,"y":0.56},{"x":284,"y":0.556},{"x":287,"y":0.562},{"x":290,"y":0.557},{"x":293,"y":0.561},{"x":296,"y":0.556},{"x":299,"y":0.56}],
"f_mk": [{"x":299,"y":0.4135,"lab":"0.4135"},{"x":236,"y":0.5395,"lab":"0.5395"},{"x":236,"y":0.5416,"lab":"0.5416"},{"x":300,"y":0.5434,"lab":"0.5434"}]
},
"concat": [
{"width": 370, "height": 310, "title": {"text": "(a) l = 4095, no dropout", "orient": "bottom", "frame": "group", "baseline": "alphabetic", "offset": 81, "dx": -4},
 "encoding": {"x": {"field": "x", "type": "quantitative", "scale": {"domain": [-15, 314], "nice": false, "zero": false}, "axis": {"values": [0,50,100,150,200,250,300]}}, "y": {"field": "y", "type": "quantitative", "scale": {"domain": [-0.007, 0.707], "nice": false, "zero": false}, "axis": {"values": [0,0.1,0.2,0.3,0.4,0.5,0.6,0.7], "format": ".1f"}}},
 "layer": [
  {"data": {"name": "a_tr"}, "mark": {"type": "line", "color": "#E24A33", "strokeWidth": 1.8, "clip": true}, "encoding": {}},
  {"data": {"name": "a_va"}, "mark": {"type": "line", "color": "#348ABD", "strokeWidth": 2, "strokeDash": [5.5, 2.5], "clip": true}, "encoding": {}},
  {"data": {"name": "a_mk"}, "mark": {"type": "point", "filled": true, "size": 50, "strokeWidth": 1, "opacity": 1},
   "encoding": {
    "fill": {"field": "lab", "type": "nominal", "scale": {"domain": ["Train","Valid","0.0631","0.5404","0.5430","0.5986"], "range": ["#E24A33","#348ABD","#E24A33","#348ABD","#000000","#000000"]}, "legend": {"title": null}},
    "stroke": {"field": "lab", "type": "nominal", "scale": {"domain": ["Train","Valid","0.0631","0.5404","0.5430","0.5986"], "range": ["#E24A33","#348ABD","#E24A33","#348ABD","#000000","#000000"]}, "legend": {"title": null}},
    "shape": {"field": "lab", "type": "nominal", "scale": {"domain": ["Train","Valid","0.0631","0.5404","0.5430","0.5986"], "range": ["M-6,0L6,0","M-6,0L6,0","circle","circle","M0,-1.25L0.281,-0.386L1.189,-0.386L0.454,0.148L0.735,1.011L0,0.478L-0.735,1.011L-0.454,0.148L-1.189,-0.386L-0.281,-0.386Z","M0,0L0,-1.4M0,0L-1.21,0.7M0,0L1.21,0.7"]}, "legend": {"title": null}},
    "strokeDash": {"field": "lab", "type": "nominal", "scale": {"domain": ["Train","Valid","0.0631","0.5404","0.5430","0.5986"], "range": [[1,0],[5.5,2.5],[1,0],[1,0],[1,0],[1,0]]}, "legend": {"title": null}}
   }}
 ]},
{"width": 370, "height": 310, "title": {"text": "(b) l = 4095, p = 0.05", "orient": "bottom", "frame": "group", "baseline": "alphabetic", "offset": 81, "dx": -4},
 "encoding": {"x": {"field": "x", "type": "quantitative", "scale": {"domain": [-15, 314], "nice": false, "zero": false}, "axis": {"values": [0,50,100,150,200,250,300]}}, "y": {"field": "y", "type": "quantitative", "scale": {"domain": [-0.007, 0.707], "nice": false, "zero": false}, "axis": {"values": [0,0.1,0.2,0.3,0.4,0.5,0.6,0.7], "format": ".1f"}}},
 "layer": [
  {"data": {"name": "b_tr"}, "mark": {"type": "line", "color": "#E24A33", "strokeWidth": 1.8, "clip": true}, "encoding": {}},
  {"data": {"name": "b_va"}, "mark": {"type": "line", "color": "#348ABD", "strokeWidth": 2, "strokeDash": [5.5, 2.5], "clip": true}, "encoding": {}},
  {"data": {"name": "b_mk"}, "mark": {"type": "point", "filled": true, "size": 50, "strokeWidth": 1, "opacity": 1},
   "encoding": {
    "fill": {"field": "lab", "type": "nominal", "scale": {"domain": ["0.3242","0.5386","0.5407","0.5606"], "range": ["#E24A33","#348ABD","#000000","#000000"]}, "legend": {"title": null}},
    "stroke": {"field": "lab", "type": "nominal", "scale": {"domain": ["0.3242","0.5386","0.5407","0.5606"], "range": ["#E24A33","#348ABD","#000000","#000000"]}, "legend": {"title": null}},
    "shape": {"field": "lab", "type": "nominal", "scale": {"domain": ["0.3242","0.5386","0.5407","0.5606"], "range": ["circle","circle","M0,-1.25L0.281,-0.386L1.189,-0.386L0.454,0.148L0.735,1.011L0,0.478L-0.735,1.011L-0.454,0.148L-1.189,-0.386L-0.281,-0.386Z","M0,0L0,-1.4M0,0L-1.21,0.7M0,0L1.21,0.7"]}, "legend": {"title": null}}
   }}
 ]},
{"width": 370, "height": 310, "title": {"text": "(c) l = 4095, p = 0.1", "orient": "bottom", "frame": "group", "baseline": "alphabetic", "offset": 81, "dx": -4},
 "encoding": {"x": {"field": "x", "type": "quantitative", "scale": {"domain": [-15, 314], "nice": false, "zero": false}, "axis": {"values": [0,50,100,150,200,250,300]}}, "y": {"field": "y", "type": "quantitative", "scale": {"domain": [-0.007, 0.707], "nice": false, "zero": false}, "axis": {"values": [0,0.1,0.2,0.3,0.4,0.5,0.6,0.7], "format": ".1f"}}},
 "layer": [
  {"data": {"name": "c_tr"}, "mark": {"type": "line", "color": "#E24A33", "strokeWidth": 1.8, "clip": true}, "encoding": {}},
  {"data": {"name": "c_va"}, "mark": {"type": "line", "color": "#348ABD", "strokeWidth": 2, "strokeDash": [5.5, 2.5], "clip": true}, "encoding": {}},
  {"data": {"name": "c_mk"}, "mark": {"type": "point", "filled": true, "size": 50, "strokeWidth": 1, "opacity": 1},
   "encoding": {
    "fill": {"field": "lab", "type": "nominal", "scale": {"domain": ["0.4010","0.5341","0.5371","0.5502"], "range": ["#E24A33","#348ABD","#000000","#000000"]}, "legend": {"title": null}},
    "stroke": {"field": "lab", "type": "nominal", "scale": {"domain": ["0.4010","0.5341","0.5371","0.5502"], "range": ["#E24A33","#348ABD","#000000","#000000"]}, "legend": {"title": null}},
    "shape": {"field": "lab", "type": "nominal", "scale": {"domain": ["0.4010","0.5341","0.5371","0.5502"], "range": ["circle","circle","M0,-1.25L0.281,-0.386L1.189,-0.386L0.454,0.148L0.735,1.011L0,0.478L-0.735,1.011L-0.454,0.148L-1.189,-0.386L-0.281,-0.386Z","M0,0L0,-1.4M0,0L-1.21,0.7M0,0L1.21,0.7"]}, "legend": {"title": null}}
   }}
 ]},
{"width": 370, "height": 310, "title": {"text": "(d) l = 8191, no dropout", "orient": "bottom", "frame": "group", "baseline": "alphabetic", "offset": 77, "dx": -4},
 "encoding": {"x": {"field": "x", "type": "quantitative", "scale": {"domain": [-15, 314], "nice": false, "zero": false}, "axis": {"values": [0,50,100,150,200,250,300]}}, "y": {"field": "y", "type": "quantitative", "scale": {"domain": [-0.007, 0.707], "nice": false, "zero": false}, "axis": {"values": [0,0.1,0.2,0.3,0.4,0.5,0.6,0.7], "format": ".1f"}}},
 "layer": [
  {"data": {"name": "d_tr"}, "mark": {"type": "line", "color": "#E24A33", "strokeWidth": 1.8, "clip": true}, "encoding": {}},
  {"data": {"name": "d_va"}, "mark": {"type": "line", "color": "#348ABD", "strokeWidth": 2, "strokeDash": [5.5, 2.5], "clip": true}, "encoding": {}},
  {"data": {"name": "d_mk"}, "mark": {"type": "point", "filled": true, "size": 50, "strokeWidth": 1, "opacity": 1},
   "encoding": {
    "fill": {"field": "lab", "type": "nominal", "scale": {"domain": ["0.0568","0.5341","0.5425","0.5950"], "range": ["#E24A33","#348ABD","#000000","#000000"]}, "legend": {"title": null}},
    "stroke": {"field": "lab", "type": "nominal", "scale": {"domain": ["0.0568","0.5341","0.5425","0.5950"], "range": ["#E24A33","#348ABD","#000000","#000000"]}, "legend": {"title": null}},
    "shape": {"field": "lab", "type": "nominal", "scale": {"domain": ["0.0568","0.5341","0.5425","0.5950"], "range": ["circle","circle","M0,-1.25L0.281,-0.386L1.189,-0.386L0.454,0.148L0.735,1.011L0,0.478L-0.735,1.011L-0.454,0.148L-1.189,-0.386L-0.281,-0.386Z","M0,0L0,-1.4M0,0L-1.21,0.7M0,0L1.21,0.7"]}, "legend": {"title": null}}
   }}
 ]},
{"width": 370, "height": 310, "title": {"text": "(e) l = 8191, p = 0.05", "orient": "bottom", "frame": "group", "baseline": "alphabetic", "offset": 77, "dx": -4},
 "encoding": {"x": {"field": "x", "type": "quantitative", "scale": {"domain": [-15, 314], "nice": false, "zero": false}, "axis": {"values": [0,50,100,150,200,250,300]}}, "y": {"field": "y", "type": "quantitative", "scale": {"domain": [-0.007, 0.707], "nice": false, "zero": false}, "axis": {"values": [0,0.1,0.2,0.3,0.4,0.5,0.6,0.7], "format": ".1f"}}},
 "layer": [
  {"data": {"name": "e_tr"}, "mark": {"type": "line", "color": "#E24A33", "strokeWidth": 1.8, "clip": true}, "encoding": {}},
  {"data": {"name": "e_va"}, "mark": {"type": "line", "color": "#348ABD", "strokeWidth": 2, "strokeDash": [5.5, 2.5], "clip": true}, "encoding": {}},
  {"data": {"name": "e_mk"}, "mark": {"type": "point", "filled": true, "size": 50, "strokeWidth": 1, "opacity": 1},
   "encoding": {
    "fill": {"field": "lab", "type": "nominal", "scale": {"domain": ["0.3413","0.5441","0.5439","0.5647"], "range": ["#E24A33","#348ABD","#000000","#000000"]}, "legend": {"title": null}},
    "stroke": {"field": "lab", "type": "nominal", "scale": {"domain": ["0.3413","0.5441","0.5439","0.5647"], "range": ["#E24A33","#348ABD","#000000","#000000"]}, "legend": {"title": null}},
    "shape": {"field": "lab", "type": "nominal", "scale": {"domain": ["0.3413","0.5441","0.5439","0.5647"], "range": ["circle","circle","M0,-1.25L0.281,-0.386L1.189,-0.386L0.454,0.148L0.735,1.011L0,0.478L-0.735,1.011L-0.454,0.148L-1.189,-0.386L-0.281,-0.386Z","M0,0L0,-1.4M0,0L-1.21,0.7M0,0L1.21,0.7"]}, "legend": {"title": null}}
   }}
 ]},
{"width": 370, "height": 310, "title": {"text": "(f) l = 8191, p = 0.1", "orient": "bottom", "frame": "group", "baseline": "alphabetic", "offset": 77, "dx": -4},
 "encoding": {"x": {"field": "x", "type": "quantitative", "scale": {"domain": [-15, 314], "nice": false, "zero": false}, "axis": {"values": [0,50,100,150,200,250,300]}}, "y": {"field": "y", "type": "quantitative", "scale": {"domain": [-0.007, 0.707], "nice": false, "zero": false}, "axis": {"values": [0,0.1,0.2,0.3,0.4,0.5,0.6,0.7], "format": ".1f"}}},
 "layer": [
  {"data": {"name": "f_tr"}, "mark": {"type": "line", "color": "#E24A33", "strokeWidth": 1.8, "clip": true}, "encoding": {}},
  {"data": {"name": "f_va"}, "mark": {"type": "line", "color": "#348ABD", "strokeWidth": 2, "strokeDash": [5.5, 2.5], "clip": true}, "encoding": {}},
  {"data": {"name": "f_mk"}, "mark": {"type": "point", "filled": true, "size": 50, "strokeWidth": 1, "opacity": 1},
   "encoding": {
    "fill": {"field": "lab", "type": "nominal", "scale": {"domain": ["0.4135","0.5395","0.5416","0.5434"], "range": ["#E24A33","#348ABD","#000000","#000000"]}, "legend": {"title": null}},
    "stroke": {"field": "lab", "type": "nominal", "scale": {"domain": ["0.4135","0.5395","0.5416","0.5434"], "range": ["#E24A33","#348ABD","#000000","#000000"]}, "legend": {"title": null}},
    "shape": {"field": "lab", "type": "nominal", "scale": {"domain": ["0.4135","0.5395","0.5416","0.5434"], "range": ["circle","circle","M0,-1.25L0.281,-0.386L1.189,-0.386L0.454,0.148L0.735,1.011L0,0.478L-0.735,1.011L-0.454,0.148L-1.189,-0.386L-0.281,-0.386Z","M0,0L0,-1.4M0,0L-1.21,0.7M0,0L1.21,0.7"]}, "legend": {"title": null}}
   }}
 ]}
]
}
